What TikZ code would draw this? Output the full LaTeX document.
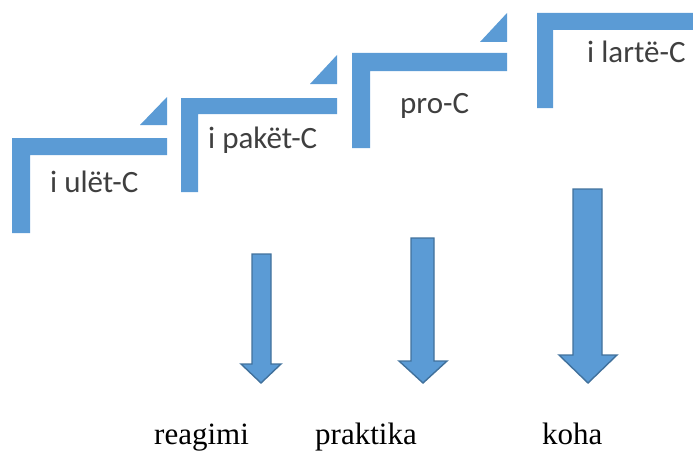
\documentclass[tikz,border=0pt]{standalone}
\usepackage{fontspec}
\setmainfont{Liberation Serif}
\newfontfamily\stepfont{Carlito}
\definecolor{stepblue}{HTML}{5B9BD5}
\definecolor{arrowedge}{HTML}{41719C}
\definecolor{steptext}{HTML}{3F3F3F}
\begin{document}
\begin{tikzpicture}[x=1pt,y=-1pt,
  stepshape/.style={fill=stepblue,draw=none},
  downarrow/.style={fill=stepblue,draw=arrowedge,line width=1.4pt,line join=miter},
  steplabel/.style={inner sep=0pt,anchor=base west,text=steptext,font=\stepfont\fontsize{31}{36}\selectfont},
  bottomlabel/.style={inner sep=0pt,anchor=base west,text=black,font=\fontsize{31}{36}\selectfont}]
\useasboundingbox (0,0) rectangle (693,452);
% steps
\fill[stepshape] (12,138) -- (167,138) -- (167,155) -- (30,155) -- (30,233) -- (12,233) -- cycle;
\fill[stepshape] (140,125) -- (167,97) -- (167,125) -- cycle;
\fill[stepshape] (181,98) -- (337,98) -- (337,114) -- (198,114) -- (198,192) -- (181,192) -- cycle;
\fill[stepshape] (310,84) -- (337,55) -- (337,84) -- cycle;
\fill[stepshape] (352,53) -- (507,53) -- (507,71) -- (370,71) -- (370,148) -- (352,148) -- cycle;
\fill[stepshape] (480,42) -- (507,13) -- (507,42) -- cycle;
\fill[stepshape] (537,13) -- (693,13) -- (693,30) -- (553,30) -- (553,108) -- (537,108) -- cycle;
% step labels
\node[steplabel] (s1) at (50,192) {i ulët-C};
\node[steplabel] (s2) at (208,148) {i pakët-C};
\node[steplabel] (s3) at (400,113) {pro-C};
\node[steplabel] (s4) at (587,63) {i lartë-C};
% arrows
\draw[downarrow] (252,254) -- (271,254) -- (271,364) -- (281,364) -- (261,383) -- (241,364) -- (252,364) -- cycle;
\draw[downarrow] (411,238) -- (434,238) -- (434,361) -- (447,361) -- (423,383) -- (399,361) -- (411,361) -- cycle;
\draw[downarrow] (573,189) -- (602,189) -- (602,355) -- (617,355) -- (588,383) -- (559,355) -- (573,355) -- cycle;
% bottom labels
\node[bottomlabel] (b1) at (154,444) {reagimi};
\node[bottomlabel] (b2) at (315,444) {praktika};
\node[bottomlabel] (b3) at (542,444) {koha};
\end{tikzpicture}
\end{document}
